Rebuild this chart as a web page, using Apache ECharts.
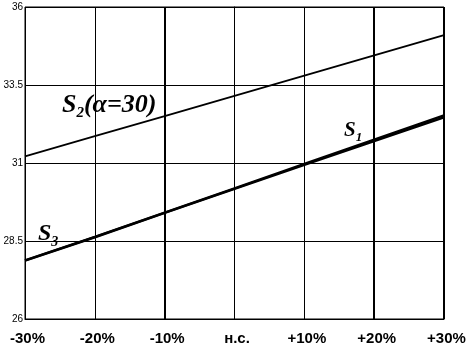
<!DOCTYPE html>
<html>
<head>
<meta charset="utf-8">
<script src="https://cdn.jsdelivr.net/npm/echarts@6/dist/echarts.min.js"></script>
<style>
html,body{margin:0;padding:0;background:#fff;}
#c{width:472px;height:348px;}
</style>
</head>
<body>
<div id="c"></div>
<script>
// Data
const xValues = [-30, -20, -10, 0, 10, 20, 30];
const xTickLabels = ['-30%', '-20%', '-10%', 'н.с.', '+10%', '+20%', '+30%'];
const yTickValues = [26, 28.5, 31, 33.5, 36];
const yTickLabels = ['26', '28.5', '31', '33.5', '36'];
const s2Values = [31.21, 31.86, 32.50, 33.15, 33.80, 34.45, 35.10];
const s1Values = [27.88, 28.63, 29.41, 30.19, 30.97, 31.75, 32.53];
const s3Values = [27.87, 28.62, 29.40, 30.17, 30.94, 31.70, 32.46];
const boldGridX = [-10, 20, 30];

const chart = echarts.init(document.getElementById('c'), null, {renderer: 'canvas'});
const pairs = v => xValues.map((x, i) => [x, v[i]]);
const labelFor = v => {
  const i = xValues.indexOf(Math.round(v));
  return i >= 0 ? xTickLabels[i] : '';
};
const yLabelFor = v => {
  const i = yTickValues.indexOf(v);
  return i >= 0 ? yTickLabels[i] : '';
};

chart.setOption({
  animation: false,
  backgroundColor: '#fff',
  grid: {left: 25, right: 28, top: 7, bottom: 29, show: true, borderColor: '#000', borderWidth: 1},
  xAxis: {
    type: 'value', min: -30, max: 30, interval: 10,
    axisLine: {show: true, lineStyle: {color: '#000', width: 1}},
    axisTick: {show: false},
    splitLine: {show: true, lineStyle: {color: '#000', width: 1}},
    axisLabel: {
      color: '#000', fontFamily: 'Arial, Liberation Sans', fontWeight: 'bold', fontSize: 15,
      margin: 12, padding: [0, 0, 0, 5],
      formatter: labelFor
    }
  },
  yAxis: {
    type: 'value', min: 26, max: 36, interval: 2.5,
    axisLine: {show: true, lineStyle: {color: '#000', width: 1}},
    axisTick: {show: false},
    splitLine: {show: true, lineStyle: {color: '#000', width: 1}},
    axisLabel: {
      color: '#000', fontFamily: 'Arial, Liberation Sans', fontSize: 10, margin: 2,
      padding: [3, 0, 0, 0],
      formatter: yLabelFor
    }
  },
  series: [
    {
      name: 'S2', type: 'line', data: pairs(s2Values), symbol: 'none',
      lineStyle: {color: '#000', width: 1.8},
      markLine: {
        silent: true, symbol: 'none', label: {show: false},
        lineStyle: {color: '#000', width: 2, type: 'solid'},
        data: boldGridX.map(x => ({xAxis: x}))
      }
    },
    {name: 'S1', type: 'line', data: pairs(s1Values), symbol: 'none', lineStyle: {color: '#000', width: 2.4}},
    {name: 'S3', type: 'line', data: pairs(s3Values), symbol: 'none', lineStyle: {color: '#000', width: 2.4}}
  ],
  graphic: [
    {
      type: 'text', left: 62, top: 92,
      style: {
        text: '{s|S}{sub|2}{s|(α=30)}',
        rich: {
          s: {fontFamily: 'Liberation Serif', fontStyle: 'italic', fontWeight: 'bold', fontSize: 26, fill: '#000', lineHeight: 28},
          sub: {fontFamily: 'Liberation Serif', fontStyle: 'italic', fontWeight: 'bold', fontSize: 15, fill: '#000', verticalAlign: 'bottom', lineHeight: 28, padding: [0, 0, -2, 0]}
        }
      }
    },
    {
      type: 'text', left: 344, top: 120,
      style: {
        text: '{s|S}{sub|1}',
        rich: {
          s: {fontFamily: 'Liberation Serif', fontStyle: 'italic', fontWeight: 'bold', fontSize: 21, fill: '#000', lineHeight: 22},
          sub: {fontFamily: 'Liberation Serif', fontStyle: 'italic', fontWeight: 'bold', fontSize: 13, fill: '#000', verticalAlign: 'bottom', lineHeight: 22, padding: [0, 0, -3, 0]}
        }
      }
    },
    {
      type: 'text', left: 38, top: 222,
      style: {
        text: '{s|S}{sub|3}',
        rich: {
          s: {fontFamily: 'Liberation Serif', fontStyle: 'italic', fontWeight: 'bold', fontSize: 24, fill: '#000', lineHeight: 26},
          sub: {fontFamily: 'Liberation Serif', fontStyle: 'italic', fontWeight: 'bold', fontSize: 14, fill: '#000', verticalAlign: 'bottom', lineHeight: 26, padding: [0, 0, -2, 0]}
        }
      }
    }
  ]
});
</script>
</body>
</html>
